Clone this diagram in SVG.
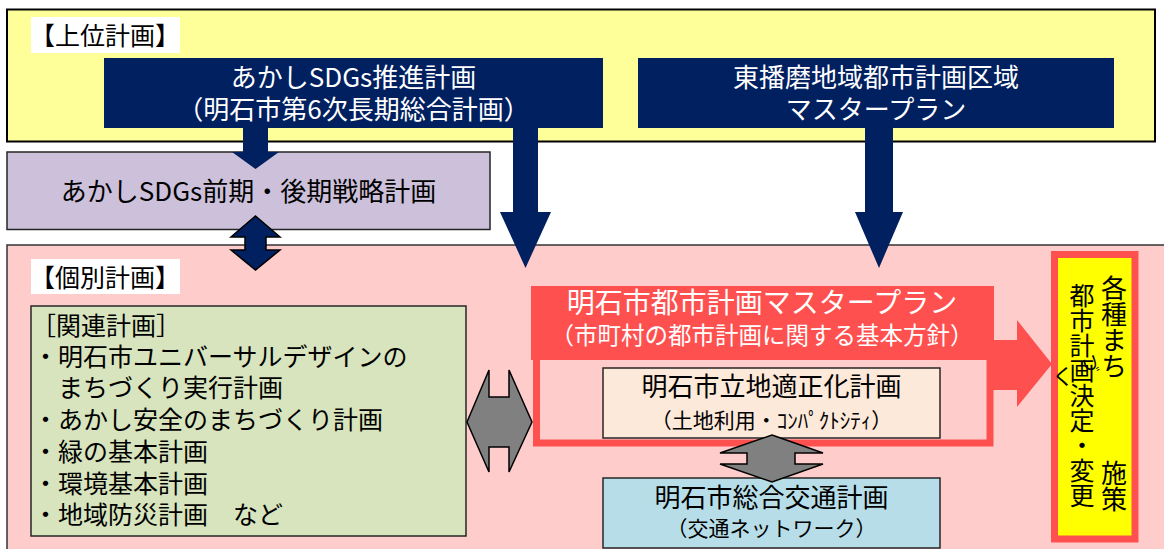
<svg xmlns="http://www.w3.org/2000/svg" width="1164" height="549" viewBox="0 0 1164 549">
<style>
text{font-family:"Noto Sans CJK JP","Noto Sans",sans-serif;}
.w{fill:#ffffff;}
.k{fill:#000000;}
.c{text-anchor:middle;}
.box{stroke:#262626;stroke-width:1.5;}
.navy{fill:#002060;}
.gray{fill:#808080;stroke:#000000;stroke-width:1.5;stroke-linejoin:miter;}
.vt{writing-mode:vertical-rl;fill:#000000;}
</style>
<rect width="1164" height="549" fill="#ffffff"/>
<g id="upper-group">
<rect x="7" y="9.5" width="1148" height="132" fill="#ffff99" stroke="#000" stroke-width="2"/>
<rect x="31" y="17" width="149" height="36" fill="#ffffff"/>
<text x="30" y="45" font-size="25" class="k">【上位計画】</text>
</g>
<g id="individual-group">
<rect x="7" y="245" width="1170" height="310" fill="#ffcccc" stroke="#333" stroke-width="1.5"/>
<rect x="31" y="259" width="149" height="35" fill="#ffffff"/>
<text x="30" y="287" font-size="25" class="k">【個別計画】</text>
</g>
<g id="sdgs-plan">
<rect x="104" y="58" width="499" height="70" class="navy"/>
<text font-size="26" class="w c"><tspan x="353.5" y="87">あかしSDGs推進計画</tspan><tspan x="353.5" y="119">（明石市第6次長期総合計画）</tspan></text>
</g>
<g id="higashiharima-plan">
<rect x="638" y="58" width="476" height="70" class="navy"/>
<text font-size="26" class="w c"><tspan x="876" y="87">東播磨地域都市計画区域</tspan><tspan x="876" y="119">マスタープラン</tspan></text>
</g>
<g id="strategy-plan">
<rect x="7" y="152" width="483" height="77.5" fill="#ccc0da" class="box"/>
<text x="248.5" y="201" font-size="26" class="k c">あかしSDGs前期・後期戦略計画</text>
</g>
<g id="related-plans">
<rect x="31" y="306" width="435" height="230" fill="#d7e4bd" class="box"/>
<text font-size="25" class="k"><tspan x="31" y="335">［関連計画］</tspan><tspan x="33" y="366">・明石市ユニバーサルデザインの</tspan><tspan x="33" y="397">　まちづくり実行計画</tspan><tspan x="33" y="429">・あかし安全のまちづくり計画</tspan><tspan x="33" y="461">・緑の基本計画</tspan><tspan x="33" y="493">・環境基本計画</tspan><tspan x="33" y="524">・地域防災計画　など</tspan></text>
</g>
<g id="master-plan">
<rect x="536.5" y="300" width="453.5" height="143" fill="none" stroke="#ff5050" stroke-width="7"/>
<rect x="531" y="286" width="463" height="74" fill="#ff5050"/>
<text class="w c"><tspan x="762" y="313" font-size="28">明石市都市計画マスタープラン</tspan><tspan x="762" y="344" font-size="23.5">（市町村の都市計画に関する基本方針）</tspan></text>
</g>
<g id="location-plan">
<rect x="603" y="368" width="337" height="70" fill="#fde9d9" class="box"/>
<text class="k c"><tspan x="771.5" y="396" font-size="26">明石市立地適正化計画</tspan><tspan x="771.5" y="428" font-size="21">（土地利用・ｺﾝﾊﾟｸﾄｼﾃｨ）</tspan></text>
</g>
<g id="transport-plan">
<rect x="603" y="478" width="337" height="70" fill="#b7dee8" class="box"/>
<text class="k c"><tspan x="771.5" y="507" font-size="26">明石市総合交通計画</tspan><tspan x="771.5" y="536" font-size="21">（交通ネットワーク）</tspan></text>
</g>
<g id="measures">
<rect x="1054.5" y="254.5" width="80.5" height="284.5" fill="#ffff00" stroke="#ff5050" stroke-width="7"/>
<text x="1114" y="275" font-size="26" class="vt">各種まち</text>
<text x="1114" y="460" font-size="26" class="vt">施策</text>
<text x="1082" y="283" font-size="25" class="vt">都市計画決定・変更</text>
<text x="1052" y="384" font-size="22" class="k">く</text>
<text x="0" y="0" font-size="18" class="k" transform="translate(1084,354) rotate(90)">づ</text>
</g>
<g id="connectors">
<polygon class="navy" points="243,128 268,128 268,152 279,152 255.5,169 232,152 243,152"/>
<polygon class="navy" points="513,128 538,128 538,212 551,212 525.5,268 500,212 513,212"/>
<polygon class="navy" points="865,128 893,128 893,212 903,212 879,268 855,212 865,212"/>
<polygon class="navy" stroke="#000" stroke-width="1.5" points="255.5,216 280,237 266,237 266,250 280,250 255.5,270 231,250 245,250 245,237 231,237"/>
<polygon fill="#ff5050" points="990,340 1017,340 1017,320 1052,364 1017,407 1017,390 990,390"/>
<polygon class="gray" points="467,422 489,370 489,397 509,397 509,370 532,422 509,472 509,447 489,447 489,472"/>
<polygon class="gray" points="772,435 823,453 795,453 795,464 823,464 772,482 720,464 747,464 747,453 720,453"/>
</g>
</svg>
